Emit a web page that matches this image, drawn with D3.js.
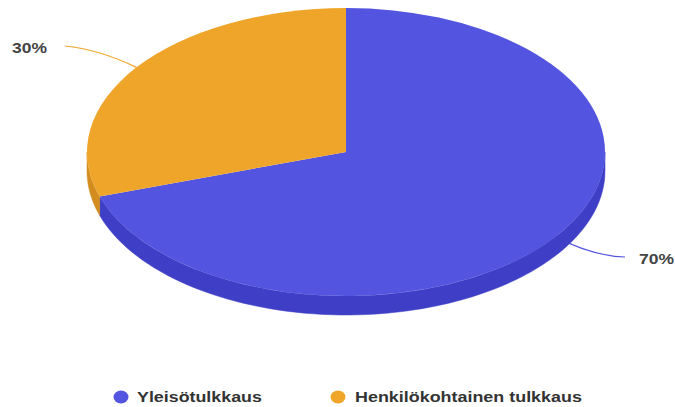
<!DOCTYPE html>
<html><head><meta charset="utf-8">
<script src="https://cdn.jsdelivr.net/npm/d3@7"></script>
<style>body{margin:0;background:#fff}svg{display:block}</style>
</head><body>
<svg id="c" width="675" height="407"></svg>
<script>
const categories = ["Yleisötulkkaus", "Henkilökohtainen tulkkaus"];
const values = [70, 30];
const labels = ["70%", "30%"];
const colors = ["#5354df", "#eea52a"];
const sideColors = ["#3e3fc6", "#d38c1e"];

const svg = d3.select("#c");
const cx = 346, cy = 152, rx = 259, ry = 144, depth = 19;
const sx = d3.scaleLinear().domain([-1, 1]).range([cx - rx, cx + rx]);
const sy = d3.scaleLinear().domain([-1, 1]).range([cy - ry, cy + ry]);

const pie = d3.pie().sort(null).value(d => d)(values);
const px = a => sx(Math.sin(a)), py = a => sy(-Math.cos(a));

// text stretched horizontally to a target width
function wideText(x, y, str, size, fill, w) {
  const t = svg.append("text").attr("x", 0).attr("y", 0).attr("dy", "0.35em")
    .attr("font-family", "Liberation Sans, Arial, sans-serif")
    .attr("font-size", size).attr("font-weight", "bold").attr("fill", fill).text(str);
  const k = w / t.node().getComputedTextLength();
  t.attr("transform", `translate(${x},${y}) scale(${k},1)`);
  return t;
}

// leader lines (drawn under pie)
const lineDefs = [
  {i: 0, end: [625, 257], ctrl: [592, 256], tx: 639, ty: 259},
  {i: 1, end: [65, 46], ctrl: [98, 49], tx: 12, ty: 48}
];
lineDefs.forEach(l => {
  const d = pie[l.i];
  const m = (d.startAngle + d.endAngle) / 2;
  const p = d3.path();
  p.moveTo(px(m), py(m));
  p.quadraticCurveTo(l.ctrl[0], l.ctrl[1], l.end[0], l.end[1]);
  svg.append("path").attr("d", p.toString()).attr("fill", "none")
    .attr("stroke", colors[l.i]).attr("stroke-width", 1.2);
  wideText(l.tx, l.ty, labels[l.i], 15, "#444", 35);
});

// side walls
pie.forEach((d, i) => {
  const a0 = Math.max(d.startAngle, Math.PI / 2), a1 = Math.min(d.endAngle, 3 * Math.PI / 2);
  if (a1 <= a0) return;
  const n = 80, top = [], bot = [];
  for (let k = 0; k <= n; k++) {
    const a = a0 + (a1 - a0) * k / n;
    top.push([px(a), py(a)]);
    bot.push([px(a), py(a) + depth]);
  }
  const pts = top.concat(bot.reverse());
  svg.append("path").attr("d", d3.line()(pts) + "Z").attr("fill", sideColors[i])
    .attr("stroke", sideColors[i]).attr("stroke-width", 0.5);
});

// top faces
const arc = d3.arc().innerRadius(0).outerRadius(1);
pie.forEach((d, i) => {
  svg.append("path").attr("d", arc(d))
    .attr("transform", `translate(${cx},${cy}) scale(${rx},${ry})`)
    .attr("fill", colors[i]);
});

// legend
const legend = [{x: 121, tx: 137, w: 125}, {x: 338, tx: 355, w: 227}];
categories.forEach((c, i) => {
  svg.append("ellipse").attr("cx", legend[i].x).attr("cy", 397).attr("rx", 7.5).attr("ry", 6.5).attr("fill", colors[i]);
  wideText(legend[i].tx, 397, c, 15, "#333", legend[i].w);
});
</script>
</body></html>
